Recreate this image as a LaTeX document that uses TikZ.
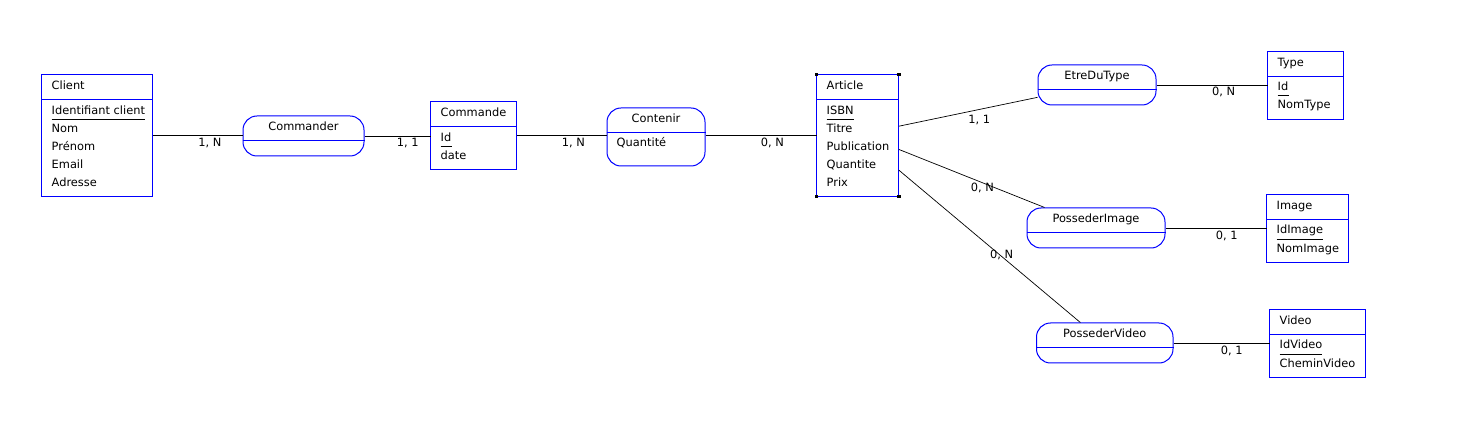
\documentclass[tikz,border=0pt]{standalone}
\usepackage{fontspec}
\setmainfont{DejaVu Sans}
\usetikzlibrary{calc}
\definecolor{erblue}{RGB}{0,0,255}
\begin{document}
\begin{tikzpicture}[x=1pt,y=-1pt,
  box/.style={inner sep=0pt,anchor=north west},
  ent/.style={box},
  rel/.style={box,draw=erblue,line width=1pt,rounded corners=14pt},
  txt/.style={inner sep=0pt,anchor=base west,font=\fontsize{11.4}{13}\selectfont},
  ctxt/.style={inner sep=0pt,anchor=base,font=\fontsize{11.4}{13}\selectfont},
  card/.style={inner sep=0pt,anchor=base,font=\fontsize{11.4}{13}\selectfont},
  sep/.style={draw=erblue,line width=1pt},
  link/.style={draw=black,line width=0.9pt},
  ul/.style={draw=black,line width=0.8pt},
]
\useasboundingbox[fill=white] (0,0) rectangle (1464,427);

% ---------- Entities ----------
% Client
\node[ent,minimum width=111pt,minimum height=121.5pt] (client) at (41.5,74.5) {};
\draw[sep] (client.north west) rectangle (client.south east);
\draw[sep] ($(client.north west)+(0,24.7)$) -- ($(client.north east)+(0,24.7)$);
\node[txt] (clientT) at ($(client.north west)+(10,15)$) {Client};
\node[txt] (clientA) at ($(client.north west)+(10,40)$) {Identifiant client};
\draw[ul] ($(clientA.base west)+(0,5)$) -- ($(clientA.base east)+(0,5)$);
\node[txt] (clientB) at ($(client.north west)+(10,58)$) {Nom};
\node[txt] (clientC) at ($(client.north west)+(10,76)$) {Prénom};
\node[txt] (clientD) at ($(client.north west)+(10,94)$) {Email};
\node[txt] (clientE) at ($(client.north west)+(10,112)$) {Adresse};

% Commande
\node[ent,minimum width=86pt,minimum height=68pt] (commande) at (430.5,101.5) {};
\draw[sep] (commande.north west) rectangle (commande.south east);
\draw[sep] ($(commande.north west)+(0,24.7)$) -- ($(commande.north east)+(0,24.7)$);
\node[txt] (commandeT) at ($(commande.north west)+(10,15)$) {Commande};
\node[txt] (commandeA) at ($(commande.north west)+(10,40)$) {Id};
\draw[ul] ($(commandeA.base west)+(0,5)$) -- ($(commandeA.base east)+(0,5)$);
\node[txt] (commandeB) at ($(commande.north west)+(10,58)$) {date};

% Article
\node[ent,minimum width=82pt,minimum height=121.5pt] (article) at (816.5,74.5) {};
\draw[sep] (article.north west) rectangle (article.south east);
\draw[sep] ($(article.north west)+(0,24.7)$) -- ($(article.north east)+(0,24.7)$);
\node[txt] (articleT) at ($(article.north west)+(10,15)$) {Article};
\node[txt] (articleA) at ($(article.north west)+(10,40)$) {ISBN};
\draw[ul] ($(articleA.base west)+(0,5)$) -- ($(articleA.base east)+(0,5)$);
\node[txt] (articleB) at ($(article.north west)+(10,58)$) {Titre};
\node[txt] (articleC) at ($(article.north west)+(10,76)$) {Publication};
\node[txt] (articleD) at ($(article.north west)+(10,94)$) {Quantite};
\node[txt] (articleE) at ($(article.north west)+(10,112)$) {Prix};
\fill[black] (article.north west) ++(-1.75,-1.75) rectangle ++(3.5,3.5);
\fill[black] (article.north east) ++(-1.75,-1.75) rectangle ++(3.5,3.5);
\fill[black] (article.south west) ++(-1.75,-1.75) rectangle ++(3.5,3.5);
\fill[black] (article.south east) ++(-1.75,-1.75) rectangle ++(3.5,3.5);

% Type
\node[ent,minimum width=76pt,minimum height=68pt] (type) at (1267.5,51.5) {};
\draw[sep] (type.north west) rectangle (type.south east);
\draw[sep] ($(type.north west)+(0,24.7)$) -- ($(type.north east)+(0,24.7)$);
\node[txt] (typeT) at ($(type.north west)+(10,15)$) {Type};
\node[txt] (typeA) at ($(type.north west)+(10,39)$) {Id};
\draw[ul] ($(typeA.base west)+(0,5)$) -- ($(typeA.base east)+(0,5)$);
\node[txt] (typeB) at ($(type.north west)+(10,57.5)$) {NomType};

% Image
\node[ent,minimum width=82pt,minimum height=68pt] (image) at (1266.5,194.5) {};
\draw[sep] (image.north west) rectangle (image.south east);
\draw[sep] ($(image.north west)+(0,24.7)$) -- ($(image.north east)+(0,24.7)$);
\node[txt] (imageT) at ($(image.north west)+(10,15)$) {Image};
\node[txt] (imageA) at ($(image.north west)+(10,39.5)$) {IdImage};
\draw[ul] ($(imageA.base west)+(0,5)$) -- ($(imageA.base east)+(0,5)$);
\node[txt] (imageB) at ($(image.north west)+(10,58)$) {NomImage};

% Video
\node[ent,minimum width=96pt,minimum height=68pt] (video) at (1269.5,309.5) {};
\draw[sep] (video.north west) rectangle (video.south east);
\draw[sep] ($(video.north west)+(0,24.7)$) -- ($(video.north east)+(0,24.7)$);
\node[txt] (videoT) at ($(video.north west)+(10,15)$) {Video};
\node[txt] (videoA) at ($(video.north west)+(10,39.5)$) {IdVideo};
\draw[ul] ($(videoA.base west)+(0,5)$) -- ($(videoA.base east)+(0,5)$);
\node[txt] (videoB) at ($(video.north west)+(10,58)$) {CheminVideo};

% ---------- Relations ----------
\node[rel,minimum width=121pt,minimum height=40pt] (commander) at (242.5,115.5) {};
\draw[sep] ($(commander.north west)+(0,24.8)$) -- ($(commander.north east)+(0,24.8)$);
\node[ctxt] (commanderT) at ($(commander.north)+(0,14.9)$) {Commander};

\node[rel,minimum width=98pt,minimum height=58pt] (contenir) at (606.5,107.5) {};
\draw[sep] ($(contenir.north west)+(0,24.6)$) -- ($(contenir.north east)+(0,24.6)$);
\node[ctxt] (contenirT) at ($(contenir.north)+(0,14.9)$) {Contenir};
\node[txt] (contenirA) at ($(contenir.north west)+(10,39.5)$) {Quantité};

\node[rel,minimum width=118pt,minimum height=40pt] (etredutype) at (1037.5,64.5) {};
\draw[sep] ($(etredutype.north west)+(0,24.8)$) -- ($(etredutype.north east)+(0,24.8)$);
\node[ctxt] (etredutypeT) at ($(etredutype.north)+(0,14.9)$) {EtreDuType};

\node[rel,minimum width=138pt,minimum height=40pt] (possederimage) at (1026.5,207.5) {};
\draw[sep] ($(possederimage.north west)+(0,24.8)$) -- ($(possederimage.north east)+(0,24.8)$);
\node[ctxt] (possederimageT) at ($(possederimage.north)+(0,14.9)$) {PossederImage};

\node[rel,minimum width=136.5pt,minimum height=40pt] (possedervideo) at (1036,322.5) {};
\draw[sep] ($(possedervideo.north west)+(0,24.8)$) -- ($(possedervideo.north east)+(0,24.8)$);
\node[ctxt] (possedervideoT) at ($(possedervideo.north)+(0,14.9)$) {PossederVideo};

% ---------- Connectors ----------
\draw[link] (client.east) -- (client.east -| commander.west);
\draw[link] (commander.east) -- (commander.east -| commande.west);
\draw[link] (commande.east) -- (commande.east -| contenir.west);
\draw[link] (article.west -| contenir.east) -- (article.west);
\draw[link] (etredutype.east) -- (etredutype.east -| type.west);
\draw[link] (possederimage.east) -- (possederimage.east -| image.west);
\draw[link] (possedervideo.east) -- (possedervideo.east -| video.west);
\draw[link,line width=0.7pt] ([yshift=9.25pt]article.east) -- (etredutype);
\draw[link,line width=0.7pt] ([yshift=-14pt]article.east) -- (possederimage);
\draw[link,line width=0.7pt] ([yshift=-34.75pt]article.east) -- (possedervideo);

% ---------- Cardinalities ----------
\node[card] (c1) at (210,147) {1, N};
\node[card] (c2) at (407.7,147) {1, 1};
\node[card] (c3) at (573.3,146.7) {1, N};
\node[card] (c4) at (772.5,147) {0, N};
\node[card] (c5) at (979.2,123.3) {1, 1};
\node[card] (c6) at (982.3,191.6) {0, N};
\node[card] (c7) at (1001.7,258.3) {0, N};
\node[card] (c8) at (1223.7,96) {0, N};
\node[card] (c9) at (1226.8,239.3) {0, 1};
\node[card] (c10) at (1231.7,354.3) {0, 1};
\end{tikzpicture}
\end{document}
